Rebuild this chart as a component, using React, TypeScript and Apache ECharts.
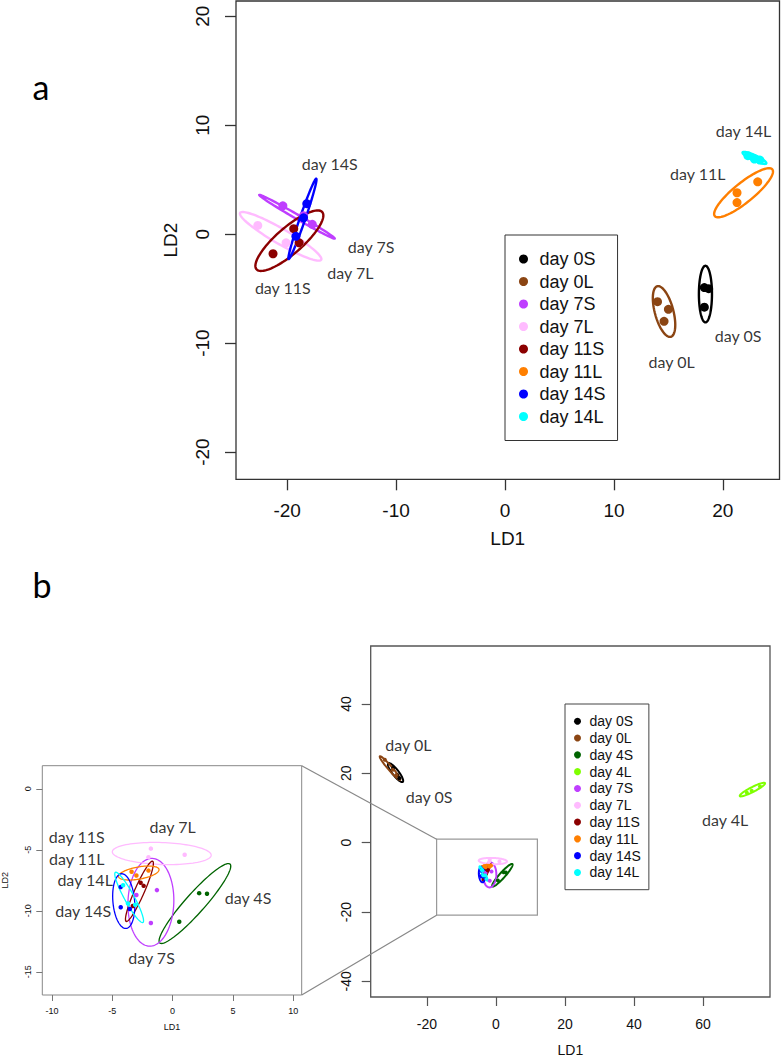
import React, { useEffect, useRef } from "react";
import * as echarts from "echarts";

// ---------- shared groups / colours ----------
const groupNames = ["day 0S", "day 0L", "day 4S", "day 4L", "day 7S", "day 7L", "day 11S", "day 11L", "day 14S", "day 14L"];
const groupColors = ["#000000", "#8B4513", "#006400", "#7FFF00", "#BF3EFF", "#FFBBFF", "#8B0000", "#FF7F00", "#0000FF", "#00FFFF"];

// ---------- panel a ----------
const groupsA = ["day 0S", "day 0L", "day 7S", "day 7L", "day 11S", "day 11L", "day 14S", "day 14L"];
const a0S = [[18.3, -4.9], [18.7, -5.0], [18.3, -6.7]];
const a0L = [[14.0, -6.2], [15.0, -6.9], [14.6, -8.0]];
const a7S = [[-20.4, 2.6], [-18.5, 1.7], [-17.7, 0.9]];
const a7L = [[-22.7, 0.8], [-20.1, -0.8], [-18.9, -0.8]];
const a11S = [[-21.3, -1.8], [-19.4, 0.5], [-18.9, -0.8]];
const a11L = [[21.3, 3.8], [21.3, 2.9], [23.2, 4.8]];
const a14S = [[-18.2, 2.8], [-18.5, 1.5], [-19.2, -0.2]];
const a14L = [[22.3, 7.2], [22.9, 6.9], [23.4, 6.8]];
const pointsA = [a0S, a0L, a7S, a7L, a11S, a11L, a14S, a14L];
// centre x, centre y, semi-major, semi-minor, angle (deg)
const ellipsesA = [
  [18.4, -5.5, 2.6, 0.6, 90],
  [14.6, -7.1, 2.4, 0.85, 105],
  [-19.1, 1.6, 4.0, 0.2, -30],
  [-20.6, -0.2, 4.3, 0.7, -30],
  [-19.8, -0.6, 4.0, 1.2, 41],
  [21.9, 3.8, 3.4, 0.9, 39],
  [-18.6, 1.4, 3.9, 0.25, 71],
  [22.9, 7.0, 1.2, 0.25, -25],
];
const labelsA = [
  ["day 14L", 21.9, 9.5],
  ["day 11L", 17.7, 5.6],
  ["day 0S", 21.4, -9.3],
  ["day 0L", 15.3, -11.7],
  ["day 14S", -16.1, 6.5],
  ["day 7S", -12.3, -1.1],
  ["day 7L", -14.2, -3.5],
  ["day 11S", -20.4, -4.9],
];
const ticksA = [-20, -10, 0, 10, 20];
const rangeAx = [-24.7, 25.2];
const rangeAy = [-22.5, 21.4];

// ---------- panel b ----------
const b0S = [[-29.8, 21.5], [-28.6, 19.5], [-28.0, 18.6]];
const b0L = [[-32.2, 23.9], [-29.9, 21.0], [-28.8, 19.5]];
const b4S = [[0.55, -10.9], [2.2, -8.55], [2.85, -8.6]];
const b4L = [[72.7, 14.4], [74.1, 15.0], [76.5, 16.2]];
const b7S = [[-3.0, -8.7], [-1.3, -8.3], [-1.8, -11.0]];
const b7L = [[-1.8, -4.9], [1.0, -5.4], [-2.0, -5.6]];
const b11S = [[-2.65, -7.7], [-2.4, -7.95], [-3.3, -9.6]];
const b11L = [[-3.4, -6.8], [-3.0, -7.1], [-2.0, -6.7]];
const b14S = [[-4.3, -8.05], [-4.3, -9.7], [-3.55, -9.85]];
const b14L = [[-4.1, -7.9], [-3.7, -9.4], [-3.1, -9.5]];
const pointsB = [b0S, b0L, b4S, b4L, b7S, b7L, b11S, b11L, b14S, b14L];
const ellipsesB = [
  [-29.1, 20.2, 3.4, 0.9, -52],
  [-30.7, 21.5, 4.5, 0.6, -49],
  [1.85, -9.4, 4.35, 0.8, 48],
  [74.3, 15.3, 4.1, 0.7, 27],
  [-1.8, -9.3, 3.6, 1.9, 88],
  [-0.9, -5.3, 4.1, 0.9, -2],
  [-2.75, -8.4, 2.7, 0.4, 66],
  [-2.8, -6.9, 1.7, 0.5, 10],
  [-4.05, -9.2, 2.25, 0.9, 95],
  [-3.6, -8.9, 2.35, 0.4, -61],
];
const labelsMain = [
  ["day 0L", -25.4, 28.2],
  ["day 0S", -19.4, 13.3],
  ["day 4L", 66.4, 6.7],
];
const labelsInset = [
  ["day 7L", 0.0, -3.1],
  ["day 11S", -7.95, -3.9],
  ["day 11L", -7.95, -5.7],
  ["day 14L", -7.25, -7.4],
  ["day 14S", -7.4, -10.0],
  ["day 4S", 6.25, -8.9],
  ["day 7S", -1.75, -13.8],
];
const ticksMainX = [-20, 0, 20, 40, 60];
const ticksMainY = [-40, -20, 0, 20, 40];
const rangeMainX = [-36.3, 79.4];
const rangeMainY = [-44.5, 56.7];
const ticksInsetX = [-10, -5, 0, 5, 10];
const ticksInsetY = [-15, -10, -5, 0];
const rangeInsetX = [-10.8, 10.7];
const rangeInsetY = [-16.9, 1.9];
const zoomRect = [-17.2, -20.9, 12.0, 1.0]; // x0, y0, x1, y1 in main-b data units

const AXIS_FONT = "Liberation Sans";
const LABEL_FONT = "Lato";

function ellipseSeries(gridIndex: number, ells: number[][], groups: string[], lw: number) {
  const data = ells.map((e, i) => [...e, groupNames.indexOf(groups[i])]);
  return {
    type: "custom",
    name: "ellipses" + gridIndex,
    xAxisIndex: gridIndex,
    yAxisIndex: gridIndex,
    clip: true,
    silent: true,
    z: 3,
    data,
    encode: { x: 0, y: 1 },
    renderItem: (params: any, api: any) => {
      const cx = api.value(0), cy = api.value(1), a = api.value(2), b = api.value(3);
      const ang = (api.value(4) * Math.PI) / 180;
      const col = groupColors[api.value(5)];
      const pts: number[][] = [];
      for (let i = 0; i <= 100; i++) {
        const t = (i / 100) * Math.PI * 2;
        const x = cx + a * Math.cos(t) * Math.cos(ang) - b * Math.sin(t) * Math.sin(ang);
        const y = cy + a * Math.cos(t) * Math.sin(ang) + b * Math.sin(t) * Math.cos(ang);
        pts.push(api.coord([x, y]));
      }
      return { type: "polygon", shape: { points: pts }, style: { fill: "none", stroke: col, lineWidth: lw } };
    },
  };
}

function pointSeries(gridIndex: number, pts: number[][][], groups: string[], size: number) {
  return pts.map((p, i) => ({
    type: "scatter",
    name: groups[i],
    xAxisIndex: gridIndex,
    yAxisIndex: gridIndex,
    symbol: "circle",
    symbolSize: size,
    itemStyle: { color: groupColors[groupNames.indexOf(groups[i])], opacity: 1 },
    z: 4,
    silent: true,
    data: p,
  }));
}

function labelSeries(gridIndex: number, labels: any[], fontSize: number) {
  return {
    type: "scatter",
    name: "labels" + gridIndex,
    xAxisIndex: gridIndex,
    yAxisIndex: gridIndex,
    symbolSize: 0,
    silent: true,
    z: 6,
    data: labels.map((l) => ({ name: l[0], value: [l[1], l[2]] })),
    label: { show: true, position: "inside", formatter: "{b}", fontFamily: LABEL_FONT, fontSize, color: "#000" },
  };
}

function axis(kind: "x" | "y", gridIndex: number, range: number[], ticks: number[], o: any) {
  return {
    type: "value",
    gridIndex,
    min: range[0],
    max: range[1],
    scale: true,
    splitLine: { show: false },
    axisLine: { show: false, onZero: false },
    axisTick: { show: true, inside: false, length: o.tickLen, customValues: ticks, lineStyle: { color: o.color, width: o.tickW } },
    axisLabel: {
      show: true,
      customValues: ticks,
      rotate: kind === "y" ? 90 : 0,
      margin: o.margin,
      fontFamily: AXIS_FONT,
      fontSize: o.fontSize,
      color: "#111",
      showMinLabel: true,
      showMaxLabel: true,
    },
    name: o.name,
    nameLocation: "middle",
    nameGap: o.nameGap,
    nameRotate: kind === "y" ? 90 : 0,
    nameTextStyle: { fontFamily: AXIS_FONT, fontSize: o.nameSize, color: "#111" },
  };
}

export default function App() {
  const ref = useRef<HTMLDivElement>(null);
  useEffect(() => {
    document.body.style.margin = "0";
    const chart = echarts.init(ref.current as HTMLDivElement, null, { renderer: "svg" });
    const option: any = {
      animation: false,
      backgroundColor: "#ffffff",
      grid: [
        { left: 236, top: 1, width: 543.5, height: 478.3, show: true, borderColor: "#333", borderWidth: 1.3, outerBoundsMode: "none", containLabel: false },
        { left: 370.7, top: 646, width: 399.3, height: 351, show: true, borderColor: "#555", borderWidth: 1.3, outerBoundsMode: "none", containLabel: false },
        { left: 42.3, top: 765.7, width: 259.4, height: 229.3, show: true, borderColor: "#888", borderWidth: 1, outerBoundsMode: "none", containLabel: false },
      ],
      xAxis: [
        axis("x", 0, rangeAx, ticksA, { tickLen: 11, color: "#333", tickW: 1.3, margin: 22, fontSize: 19, name: "LD1", nameGap: 50, nameSize: 19 }),
        axis("x", 1, rangeMainX, ticksMainX, { tickLen: 9, color: "#555", tickW: 1.2, margin: 20, fontSize: 14, name: "LD1", nameGap: 46, nameSize: 14 }),
        axis("x", 2, rangeInsetX, ticksInsetX, { tickLen: 6, color: "#777", tickW: 1, margin: 11, fontSize: 9, name: "LD1", nameGap: 27, nameSize: 9 }),
      ],
      yAxis: [
        axis("y", 0, rangeAy, ticksA, { tickLen: 11, color: "#333", tickW: 1.3, margin: 24, fontSize: 19, name: "LD2", nameGap: 56, nameSize: 19 }),
        axis("y", 1, rangeMainY, ticksMainY, { tickLen: 9, color: "#555", tickW: 1.2, margin: 18, fontSize: 14, name: "", nameGap: 40, nameSize: 14 }),
        axis("y", 2, rangeInsetY, ticksInsetY, { tickLen: 6, color: "#777", tickW: 1, margin: 10, fontSize: 9, name: "LD2", nameGap: 33, nameSize: 9 }),
      ],
      legend: [
        {
          orient: "vertical",
          left: 505,
          top: 235,
          padding: [13, 12, 13, 14],
          itemGap: 0.5,
          itemWidth: 22,
          itemHeight: 9,
          icon: "circle",
          borderColor: "#333",
          borderWidth: 1,
          backgroundColor: "#fff",
          selectedMode: false,
          textStyle: { fontFamily: AXIS_FONT, fontSize: 18, color: "#111", lineHeight: 22 },
          data: groupsA,
        },
        {
          orient: "vertical",
          left: 565,
          top: 704,
          padding: [9, 8, 9, 9],
          itemGap: 0.3,
          itemWidth: 14,
          itemHeight: 7,
          icon: "circle",
          borderColor: "#444",
          borderWidth: 1,
          backgroundColor: "#fff",
          selectedMode: false,
          textStyle: { fontFamily: AXIS_FONT, fontSize: 14, color: "#111", lineHeight: 16.5 },
          data: groupNames,
        },
      ],
      series: [
        ellipseSeries(0, ellipsesA, groupsA, 2.4),
        ...pointSeries(0, pointsA, groupsA, 9),
        labelSeries(0, labelsA, 16),
        ellipseSeries(1, ellipsesB, groupNames, 2),
        ...pointSeries(1, pointsB, groupNames, 4),
        labelSeries(1, labelsMain, 16),
        ellipseSeries(2, ellipsesB, groupNames, 1.3),
        ...pointSeries(2, pointsB, groupNames, 4.5),
        labelSeries(2, labelsInset, 16),
      ],
    };
    chart.setOption(option);

    const insetTR = chart.convertToPixel({ gridIndex: 2 } as any, [rangeInsetX[1], rangeInsetY[1]]) as number[];
    const insetBR = chart.convertToPixel({ gridIndex: 2 } as any, [rangeInsetX[1], rangeInsetY[0]]) as number[];
    const rTL = chart.convertToPixel({ gridIndex: 1 } as any, [zoomRect[0], zoomRect[3]]) as number[];
    const rBR = chart.convertToPixel({ gridIndex: 1 } as any, [zoomRect[2], zoomRect[1]]) as number[];
    const lineStyle = { stroke: "#888", lineWidth: 1.2, fill: null };
    chart.setOption({
      graphic: [
        { type: "text", x: 41, y: 86, z: 20, style: { text: "a", font: "34px Lato", fill: "#000", align: "center", verticalAlign: "middle" } },
        { type: "text", x: 42, y: 584, z: 20, style: { text: "b", font: "34px Lato", fill: "#000", align: "center", verticalAlign: "middle" } },
        { type: "rect", z: 20, shape: { x: rTL[0], y: rTL[1], width: rBR[0] - rTL[0], height: rBR[1] - rTL[1] }, style: { fill: "none", stroke: "#999", lineWidth: 1.2 } },
        { type: "line", z: 20, shape: { x1: insetTR[0], y1: insetTR[1], x2: rTL[0], y2: rTL[1] }, style: lineStyle },
        { type: "line", z: 20, shape: { x1: insetBR[0], y1: insetBR[1], x2: rTL[0], y2: rBR[1] }, style: lineStyle },
      ],
    });
    return () => chart.dispose();
  }, []);
  return <div ref={ref} style={{ position: "absolute", left: 0, top: 0, width: 784, height: 1061 }} />;
}
